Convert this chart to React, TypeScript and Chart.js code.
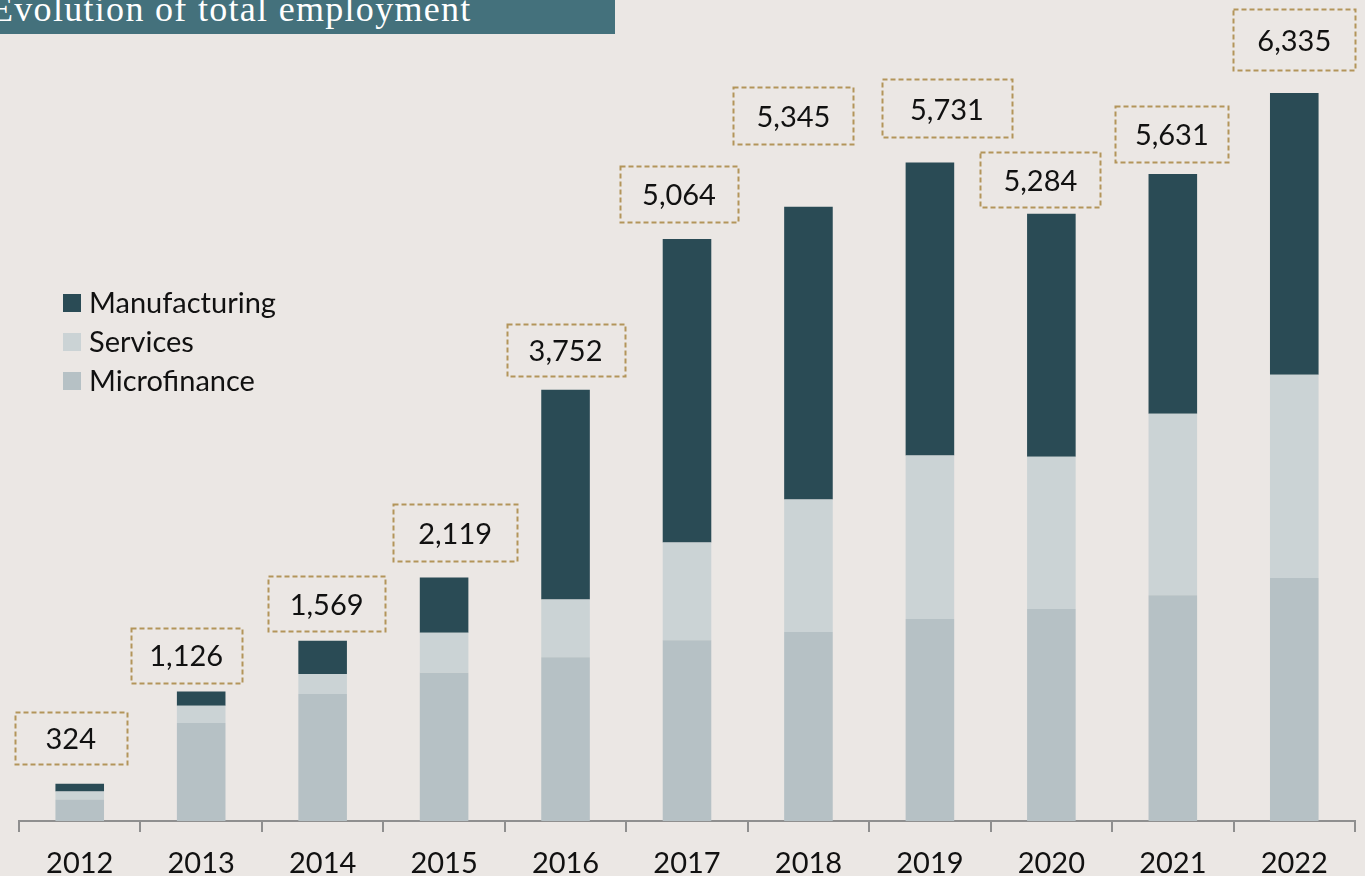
import React, { useEffect, useRef } from "react";
import { Chart, registerables } from "chart.js";

Chart.register(...registerables);

// ---- data ----
const years = ["2012", "2013", "2014", "2015", "2016", "2017", "2018", "2019", "2020", "2021", "2022"];
const microfinance = [187, 852, 1105, 1290, 1425, 1572, 1645, 1758, 1845, 1964, 2115];
const services = [70, 151, 174, 349, 503, 851, 1153, 1423, 1324, 1579, 1768];
const manufacturing = [67, 123, 290, 480, 1824, 2641, 2547, 2550, 2115, 2088, 2452];
const seriesNames = ["Microfinance", "Services", "Manufacturing"];
const titleText = "Evolution of total employment";

// ---- label box layout (annotation offsets relative to each bar) ----
const labelDx = [-9, -15, 4, 11, 0, -8, -15, 17, -11, -1, 0];
const labelGap = [20, 9, 10, 16, 14, 17, 63, 25, 7, 12, 23];
const labelW = [112, 111, 117, 124, 118, 118, 120, 130, 120, 113, 122];
const labelH = [52, 55, 55, 57, 52, 56, 57, 58, 55, 56, 61];

const COLORS = {
  bg: "#EBE7E4",
  micro: "#B6C1C5",
  services: "#CBD3D5",
  manuf: "#2A4B55",
  axis: "#8F8F8F",
  box: "#B3955A",
  title: "#44717C",
  text: "#111111",
};

const FONT = "Lato, 'Open Sans', sans-serif";

const totals = years.map((_, i) => microfinance[i] + services[i] + manufacturing[i]);

const overlayPlugin = {
  id: "overlay",
  afterDraw(chart: any) {
    const ctx = chart.ctx as CanvasRenderingContext2D;
    const xs = chart.scales.x;
    const ys = chart.scales.y;
    ctx.save();
    // value boxes
    ctx.font = `29px ${FONT}`;
    ctx.textAlign = "center";
    ctx.textBaseline = "middle";
    totals.forEach((t, i) => {
      const cx = xs.getPixelForValue(i) + labelDx[i];
      const bottom = ys.getPixelForValue(t) - labelGap[i];
      const w = labelW[i];
      const h = labelH[i];
      const left = cx - w / 2;
      const top = bottom - h;
      ctx.setLineDash([5, 3]);
      ctx.lineWidth = 2;
      ctx.strokeStyle = COLORS.box;
      ctx.strokeRect(Math.round(left) + 0.5, Math.round(top) + 0.5, Math.round(w), Math.round(h));
      ctx.setLineDash([]);
      ctx.fillStyle = COLORS.text;
      ctx.fillText(t.toLocaleString("en-US"), cx, top + h / 2 + 2);
    });
    // legend (reverse stack order)
    const ds = chart.data.datasets.slice().reverse();
    ctx.font = `29px ${FONT}`;
    ctx.textAlign = "left";
    ctx.textBaseline = "middle";
    ds.forEach((d: any, k: number) => {
      const cy = 303 + k * 39;
      ctx.fillStyle = d.backgroundColor;
      ctx.fillRect(63, cy - 9, 18, 18);
      ctx.fillStyle = COLORS.text;
      ctx.fillText(d.label, 89, cy + 1);
    });
    ctx.restore();
  },
};

export default function App() {
  const canvasRef = useRef<HTMLCanvasElement | null>(null);

  useEffect(() => {
    let chart: Chart | null = null;
    let cancelled = false;
    const build = () => {
      if (cancelled || !canvasRef.current) return;
      chart = new Chart(canvasRef.current, {
        type: "bar",
        data: {
          labels: years,
          datasets: [
            { label: seriesNames[0], data: microfinance, backgroundColor: COLORS.micro, borderWidth: 0 },
            { label: seriesNames[1], data: services, backgroundColor: COLORS.services, borderWidth: 0 },
            { label: seriesNames[2], data: manufacturing, backgroundColor: COLORS.manuf, borderWidth: 0 },
          ],
        },
        options: {
          animation: false,
          responsive: false,
          devicePixelRatio: 1,
          layout: { padding: { top: 93, left: 19, right: 10, bottom: 0 } },
          datasets: { bar: { categoryPercentage: 1, barPercentage: 0.4 } },
          plugins: { legend: { display: false }, tooltip: { enabled: false } },
          scales: {
            x: {
              stacked: true,
              offset: true,
              grid: {
                display: true,
                offset: true,
                drawOnChartArea: false,
                drawTicks: true,
                tickLength: 11,
                color: COLORS.axis,
                lineWidth: 2,
              },
              border: { display: true, color: COLORS.axis, width: 2 },
              ticks: {
                padding: 14,
                color: COLORS.text,
                font: { family: FONT, size: 29 },
                maxRotation: 0,
              },
              afterFit: (s: any) => {
                s.height = 55;
              },
            },
            y: {
              stacked: true,
              display: false,
              min: 0,
              max: 6335,
            },
          },
        },
        plugins: [overlayPlugin],
      } as any);
    };
    const fontsReady = (document as any).fonts
      ? Promise.all([
          (document as any).fonts.load(`29px Lato`),
          (document as any).fonts.load(`36px "Liberation Serif"`),
        ]).catch(() => null)
      : Promise.resolve(null);
    fontsReady.then(build);
    return () => {
      cancelled = true;
      if (chart) chart.destroy();
    };
  }, []);

  return (
    <div
      style={{
        position: "fixed",
        left: 0,
        top: 0,
        width: 1365,
        height: 876,
        background: COLORS.bg,
        overflow: "hidden",
      }}
    >
      <canvas ref={canvasRef} width={1365} height={876} style={{ position: "absolute", left: 0, top: 0 }} />
      <div
        style={{
          position: "absolute",
          left: 0,
          top: 0,
          width: 615,
          height: 34,
          background: COLORS.title,
          overflow: "hidden",
        }}
      >
        <span
          style={{
            position: "absolute",
            left: -9,
            top: -9,
            fontFamily: "'Liberation Serif', serif",
            fontSize: 36,
            letterSpacing: 1.3,
            lineHeight: 1,
            color: "#FFFFFF",
            whiteSpace: "nowrap",
          }}
        >
          {titleText}
        </span>
      </div>
    </div>
  );
}
